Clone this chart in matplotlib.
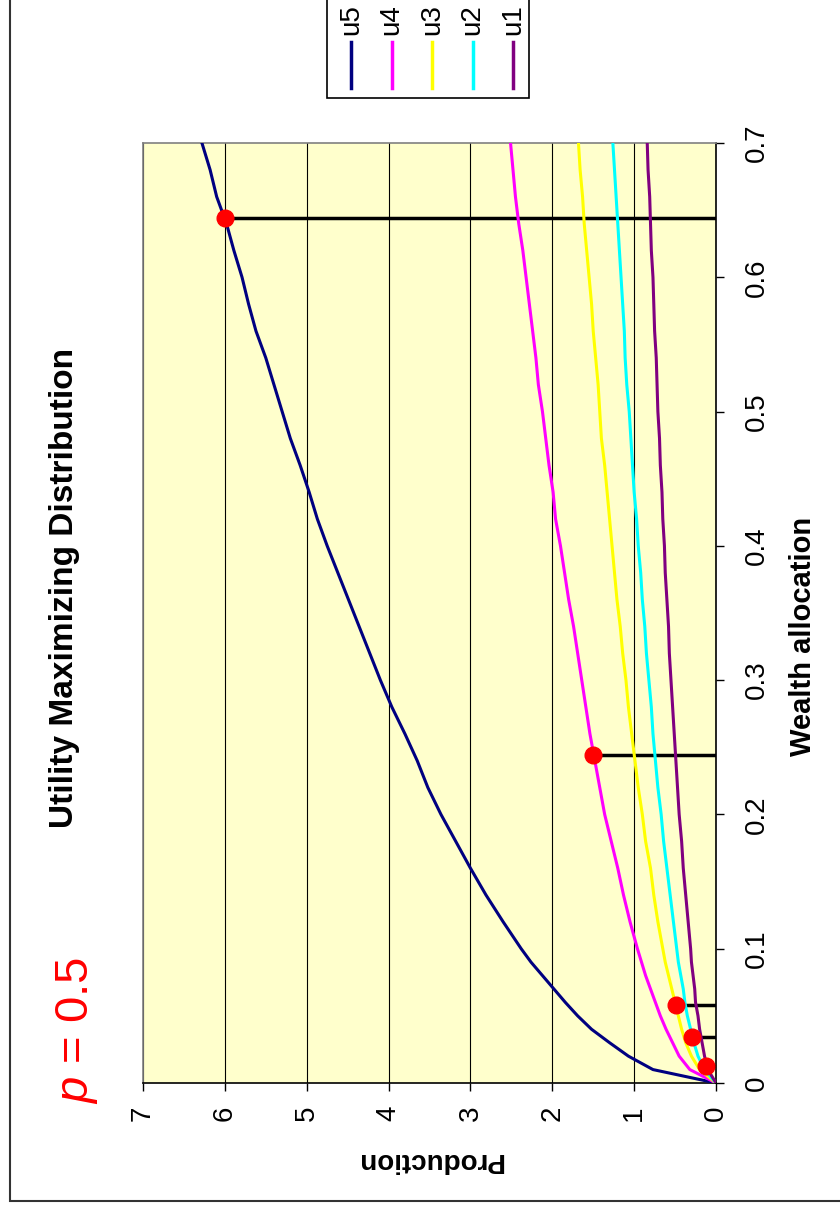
import matplotlib
matplotlib.use("Agg")
import matplotlib.pyplot as plt
from matplotlib.patches import Rectangle

plt.rcParams["font.family"] = ["Liberation Sans", "DejaVu Sans"]
plt.rcParams["mathtext.fontset"] = "custom"
plt.rcParams["mathtext.it"] = "Liberation Sans:italic"
plt.rcParams["mathtext.rm"] = "Liberation Sans"

# Wealth allocation grid and production for each utility curve
wealth = [0.00, 0.01, 0.02, 0.03, 0.04, 0.05, 0.06, 0.07, 0.08, 0.09, 0.10,
          0.12, 0.14, 0.16, 0.18, 0.20, 0.22, 0.24, 0.26, 0.28, 0.30,
          0.32, 0.34, 0.36, 0.38, 0.40, 0.42, 0.44, 0.46, 0.48, 0.50,
          0.52, 0.54, 0.56, 0.58, 0.60, 0.62, 0.64, 0.66, 0.68, 0.70]

u5 = [0.00, 0.77, 1.07, 1.30, 1.52, 1.69, 1.84, 1.98, 2.12, 2.26, 2.38,
      2.60, 2.81, 3.00, 3.18, 3.36, 3.52, 3.65, 3.80, 3.96, 4.10,
      4.23, 4.36, 4.49, 4.62, 4.75, 4.87, 4.97, 5.08, 5.20, 5.30,
      5.40, 5.50, 5.62, 5.71, 5.79, 5.89, 5.98, 6.10, 6.18, 6.28]
u4 = [0.00, 0.32, 0.45, 0.53, 0.61, 0.68, 0.74, 0.80, 0.86, 0.91, 0.96,
      1.05, 1.13, 1.20, 1.28, 1.36, 1.42, 1.48, 1.54, 1.59, 1.64,
      1.69, 1.74, 1.80, 1.85, 1.90, 1.96, 1.99, 2.04, 2.08, 2.12,
      2.17, 2.20, 2.24, 2.28, 2.32, 2.36, 2.41, 2.45, 2.48, 2.51]
u3 = [0.00, 0.20, 0.30, 0.37, 0.42, 0.46, 0.50, 0.54, 0.58, 0.62, 0.65,
      0.71, 0.76, 0.80, 0.86, 0.90, 0.95, 0.99, 1.03, 1.07, 1.10,
      1.14, 1.17, 1.21, 1.24, 1.27, 1.30, 1.33, 1.36, 1.40, 1.42,
      1.44, 1.47, 1.50, 1.52, 1.55, 1.58, 1.61, 1.63, 1.66, 1.68]
u2 = [0.00, 0.14, 0.22, 0.27, 0.31, 0.35, 0.38, 0.40, 0.43, 0.46, 0.48,
      0.52, 0.56, 0.60, 0.64, 0.67, 0.71, 0.74, 0.77, 0.79, 0.82,
      0.85, 0.87, 0.90, 0.92, 0.95, 0.97, 1.00, 1.02, 1.04, 1.06,
      1.09, 1.11, 1.12, 1.14, 1.16, 1.18, 1.20, 1.22, 1.24, 1.26]
u1 = [0.00, 0.10, 0.14, 0.17, 0.20, 0.22, 0.25, 0.26, 0.28, 0.30, 0.31,
      0.34, 0.37, 0.40, 0.42, 0.45, 0.47, 0.49, 0.51, 0.53, 0.55,
      0.57, 0.58, 0.60, 0.62, 0.63, 0.65, 0.66, 0.68, 0.69, 0.71,
      0.72, 0.73, 0.75, 0.76, 0.77, 0.79, 0.80, 0.81, 0.83, 0.84]

series_names = ["u5", "u4", "u3", "u2", "u1"]
series_colors = ["#000080", "#FF00FF", "#FFFF00", "#00FFFF", "#800080"]

# Utility maximising points (wealth, production), one per curve
opt_wealth = [0.644, 0.244, 0.058, 0.0345, 0.013]
opt_prod = [6.00, 1.50, 0.49, 0.29, 0.12]

x_ticks = [0, 1, 2, 3, 4, 5, 6, 7]
y_ticks = [0, 0.1, 0.2, 0.3, 0.4, 0.5, 0.6, 0.7]

W, H = 840, 1213
fig = plt.figure(figsize=(W / 100, H / 100), dpi=100)

# pixel overlay for frame, legend and free text
over = fig.add_axes([0, 0, 1, 1])
over.set_xlim(0, W)
over.set_ylim(H, 0)
over.axis("off")

ax = fig.add_axes([143 / W, 1 - 1083 / H, (716 - 143) / W, (1083 - 143) / H])
ax.set_facecolor("#FFFFCC")

# the chart is turned on its side: production runs right-to-left, wealth upwards
for name, col, vals in zip(series_names, series_colors, [u5, u4, u3, u2, u1]):
    ax.plot(vals, wealth, color=col, lw=2.2, zorder=3, solid_joinstyle="round")

for w, p in zip(opt_wealth, opt_prod):
    ax.plot([0, p], [w, w], color="black", lw=2.5, zorder=2, solid_capstyle="butt")
ax.plot(opt_prod, opt_wealth, "o", color="#FF0000", ms=12, mec="#FF0000", zorder=4)

ax.set_xlim(7, 0)
ax.set_ylim(0, 0.7)
ax.set_xticks(x_ticks)
ax.set_xticklabels([str(t) for t in x_ticks], rotation=90)
ax.set_yticks(y_ticks)
ax.set_yticklabels([f"{t:g}" for t in y_ticks], rotation=90, va="center")
ax.yaxis.tick_right()
ax.tick_params(axis="both", direction="out", length=6, width=1, labelsize=20, colors="black")
ax.tick_params(axis="x", pad=10)
ax.tick_params(axis="y", pad=14)
ax.xaxis.grid(True, color="black", lw=0.8)
ax.set_axisbelow(True)
for side in ["top", "left"]:
    ax.spines[side].set_color("#808080")
for side in ["bottom", "right"]:
    ax.spines[side].set_color("black")
for s in ax.spines.values():
    s.set_linewidth(1.2)

# titles and axis labels
over.text(65, 588, "Utility Maximizing Distribution", rotation=90, fontsize=24,
          fontweight="bold", ha="center", va="center")
over.text(803, 636, "Wealth allocation", rotation=90, fontsize=21,
          fontweight="bold", ha="center", va="center")
over.text(430, 1160, "Production", rotation=180, fontsize=20,
          fontweight="bold", ha="center", va="center")
over.text(77, 1030, "$p$ = 0.5", rotation=90, fontsize=34, color="#FF0000",
          ha="center", va="center")

# legend box across the top
over.add_patch(Rectangle((327, -5), 202, 103, fill=False, ec="black", lw=1.2))
for i, (name, col) in enumerate(zip(series_names, series_colors)):
    cx = 351 + i * 40.5
    over.plot([cx, cx], [42, 88], color=col, lw=2.5)
    over.text(cx, 20, name, rotation=90, fontsize=20, ha="center", va="center")

# outer chart frame
over.add_patch(Rectangle((10, -10), W + 20, 1211, fill=False, ec="#333333", lw=1.5))

fig.savefig("out.png", dpi=100)
